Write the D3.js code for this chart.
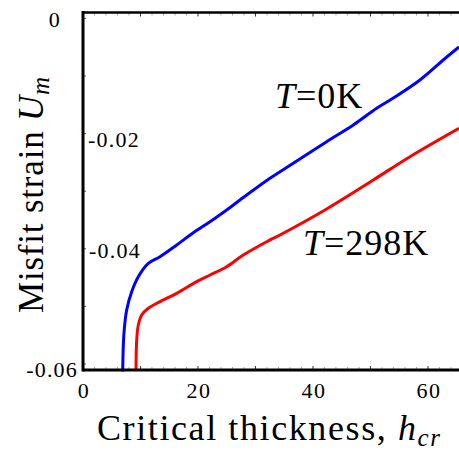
<!DOCTYPE html>
<html>
<head>
<meta charset="utf-8">
<script src="https://cdn.jsdelivr.net/npm/d3@7"></script>
<style>
  body { margin: 0; background: #fff; }
  text { font-family: "Liberation Serif", "DejaVu Serif", serif; fill: #000; }
</style>
</head>
<body>
<div id="chart"></div>
<script>
// T = 0K curve (blue)
const blueX = [6.9, 7.13, 7.6, 8.47, 9.62, 11.36, 13.39, 16.3, 19.13, 22.09, 24.99, 27.3,
  32.52, 36.57, 42.38, 47.01, 51.08, 53.91, 58.61, 62.66, 65.4];
const blueY = [-0.0613, -0.0546, -0.0506, -0.04745, -0.04484, -0.04252, -0.04137, -0.03934,
  -0.03726, -0.0353, -0.03326, -0.03153, -0.02776, -0.02516, -0.02141, -0.01851, -0.01561,
  -0.01387, -0.01069, -0.00722, -0.00497];

// T = 298K curve (red)
const redX = [9.22, 9.34, 9.62, 10.21, 11.36, 13.39, 16.3, 19.77, 22.09, 24.99, 27.88, 31.95,
  34.26, 42.09, 50.49, 56.87, 65.4];
const redY = [-0.061, -0.05583, -0.05323, -0.05149, -0.05033, -0.04918, -0.04773, -0.04571,
  -0.04455, -0.04311, -0.04108, -0.03877, -0.0376, -0.03326, -0.02806, -0.02401, -0.01908];

const xTickLabels = [0, 20, 40, 60];
const yTickLabels = ["0", "-0.02", "-0.04", "-0.06"];

const W = 459, H = 450;
const plot = { left: 83, right: 459, top: 12.5, bottom: 370 };

const svg = d3.select("#chart").append("svg")
  .attr("width", W)
  .attr("height", H);

const x = d3.scaleLinear().domain([0, 65.4]).range([83, 459]);
const y = d3.scaleLinear().domain([-0.06, 0]).range([364, 18.4]);

// clip for curves
svg.append("clipPath").attr("id", "clip")
  .append("rect")
  .attr("x", plot.left)
  .attr("y", plot.top)
  .attr("width", plot.right - plot.left)
  .attr("height", plot.bottom - plot.top + 2);

// minor/major ticks on top and bottom (inward)
const xTicks = d3.range(2, 66, 2);
xTicks.forEach(t => {
  const major = t % 10 === 0;
  svg.append("line")
    .attr("x1", x(t)).attr("x2", x(t))
    .attr("y1", plot.top).attr("y2", plot.top + (major ? 4 : 3))
    .attr("stroke", major ? "#333" : "#aaa")
    .attr("stroke-width", 1);
  svg.append("line")
    .attr("x1", x(t)).attr("x2", x(t))
    .attr("y1", plot.bottom).attr("y2", plot.bottom - (major ? 4 : 3))
    .attr("stroke", major ? "#333" : "#aaa")
    .attr("stroke-width", 1);
});

// y ticks (inward)
d3.range(0, 7).map(i => -i * 0.01).forEach(t => {
  svg.append("line")
    .attr("x1", plot.left).attr("x2", plot.left + 3)
    .attr("y1", y(t)).attr("y2", y(t))
    .attr("stroke", "#555")
    .attr("stroke-width", 1);
});

// curves
const line = d3.line()
  .x(d => x(d[0]))
  .y(d => y(d[1]))
  .curve(d3.curveCatmullRom.alpha(0.5));

const curves = [
  { xs: blueX, ys: blueY, color: "#0000ff" },
  { xs: redX, ys: redY, color: "#ff0000" }
];

curves.forEach(c => {
  svg.append("path")
    .datum(c.xs.map((v, i) => [v, c.ys[i]]))
    .attr("clip-path", "url(#clip)")
    .attr("fill", "none")
    .attr("stroke", c.color)
    .attr("stroke-width", 3)
    .attr("d", line);
});

// frame: left, top, bottom
svg.append("line")
  .attr("x1", plot.left).attr("x2", plot.left)
  .attr("y1", plot.top - 1.5).attr("y2", plot.bottom + 1.5)
  .attr("stroke", "#000").attr("stroke-width", 3);
svg.append("line")
  .attr("x1", plot.left).attr("x2", plot.right)
  .attr("y1", plot.top).attr("y2", plot.top)
  .attr("stroke", "#000").attr("stroke-width", 2.5);
svg.append("line")
  .attr("x1", plot.left).attr("x2", plot.right)
  .attr("y1", plot.bottom).attr("y2", plot.bottom)
  .attr("stroke", "#000").attr("stroke-width", 3);

// x tick labels
svg.selectAll(".xlab")
  .data(xTickLabels)
  .enter().append("text")
  .attr("x", d => x(d) + 1)
  .attr("y", 398)
  .attr("text-anchor", "middle")
  .style("font-size", "22px")
  .style("letter-spacing", "1.5px")
  .text(d => d);

// y tick labels (placement as in the original figure)
const yLabelPos = [
  { dx: 61, dy: 27, anchor: "end" },
  { dx: 88, dy: 147, anchor: "start" },
  { dx: 89, dy: 258, anchor: "start" },
  { dx: 78, dy: 377, anchor: "end" }
];
yTickLabels.forEach((t, i) => {
  svg.append("text")
    .attr("x", yLabelPos[i].dx)
    .attr("y", yLabelPos[i].dy)
    .attr("text-anchor", yLabelPos[i].anchor)
    .style("font-size", "22px")
    .style("letter-spacing", "1.2px")
    .text(t);
});

// axis titles
const xt = svg.append("text")
  .attr("x", 97)
  .attr("y", 440)
  .style("font-size", "36px")
  .style("letter-spacing", "1.6px");
xt.append("tspan").text("Critical thickness, ");
xt.append("tspan").style("font-style", "italic").text("h");
xt.append("tspan").style("font-style", "italic").style("font-size", "25px")
  .attr("dy", 6).text("cr");

const yt = svg.append("text")
  .attr("transform", "translate(43,313) rotate(-90)")
  .attr("x", 0)
  .attr("y", 0)
  .style("font-size", "35px")
  .style("letter-spacing", "0.8px");
yt.append("tspan").text("Misfit strain ");
yt.append("tspan").style("font-style", "italic").text("U");
yt.append("tspan").style("font-style", "italic").style("font-size", "25px")
  .attr("dy", 6).text("m");

// curve annotations
const a1 = svg.append("text").attr("x", 275).attr("y", 108)
  .style("font-size", "36px").style("letter-spacing", "1px");
a1.append("tspan").style("font-style", "italic").text("T");
a1.append("tspan").text("=0K");

const a2 = svg.append("text").attr("x", 303).attr("y", 255)
  .style("font-size", "36px").style("letter-spacing", "1px");
a2.append("tspan").style("font-style", "italic").text("T");
a2.append("tspan").text("=298K");
</script>
</body>
</html>
